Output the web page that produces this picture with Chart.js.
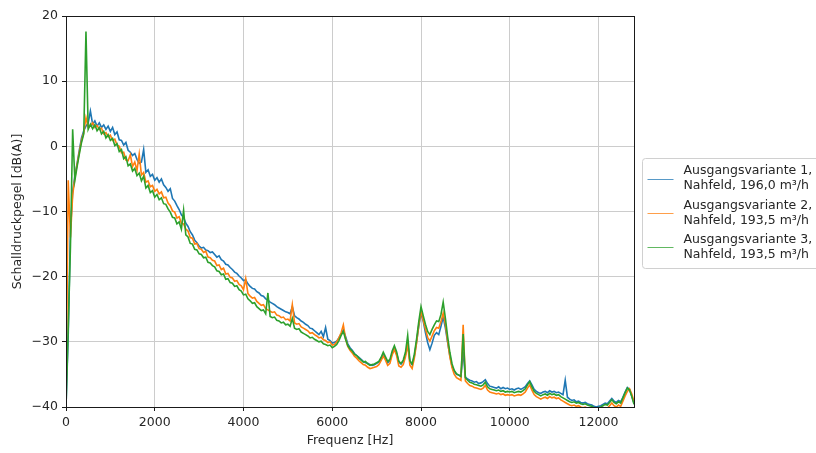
<!DOCTYPE html>
<html>
<head>
<meta charset="utf-8">
<script src="https://cdn.jsdelivr.net/npm/chart.js@4.4.1/dist/chart.umd.min.js"></script>
<style>
  html, body { margin: 0; padding: 0; background: #ffffff; }
  canvas { display: block; }
</style>
</head>
<body>
<canvas id="spectrum" width="816" height="453"></canvas>
<script>
// Sound pressure spectra, A-weighted, one value per 50 Hz bin from 0 to 12800 Hz
const FREQ_STEP_HZ = 50;

const xTickValues = [0, 2000, 4000, 6000, 8000, 10000, 12000];
const yTickValues = [-40, -30, -20, -10, 0, 10, 20];

const seriesLabels = [
  ["Ausgangsvariante 1,", "Nahfeld, 196,0 m³/h"],
  ["Ausgangsvariante 2,", "Nahfeld, 193,5 m³/h"],
  ["Ausgangsvariante 3,", "Nahfeld, 193,5 m³/h"]
];

// Ausgangsvariante 1 [dB(A)]
const variante1 = [
  -40, -29, -13, -7, -4.5, -2.6, -0.6, 1.3, 2.4, 3.1,                       // 0 Hz
  3.6, 5.4, 3.4, 3.9, 3.1, 3.6, 2.9, 3.3, 2.6, 3.1,                         // 500 Hz
  2.3, 2.9, 1.8, 2.2, 1.0, 0.9, 0.2, 0.6, -0.6, -0.9,                       // 1000 Hz
  -1.4, -1.1, -2.0, -2.6, -2.4, -0.5, -4.0, -3.6, -4.6, -4.3,               // 1500 Hz
  -5.2, -4.8, -5.5, -5.0, -5.9, -6.3, -6.9, -6.5, -8.0, -8.4,               // 2000 Hz
  -9.1, -9.7, -10.5, -10.9, -11.8, -12.3, -13.1, -13.6, -14.4, -14.8,       // 2500 Hz
  -15.3, -15.6, -15.5, -15.9, -16.0, -16.3, -16.2, -16.6, -17.0, -16.8,     // 3000 Hz
  -17.4, -17.6, -18.1, -18.2, -18.6, -18.9, -19.3, -19.5, -19.9, -20.2,     // 3500 Hz
  -20.6, -20.5, -21.1, -21.5, -21.8, -21.9, -22.3, -22.5, -22.9, -23.0,     // 4000 Hz
  -23.4, -23.6, -23.9, -24.1, -24.3, -24.6, -24.8, -25.0, -25.2, -25.4,     // 4500 Hz
  -25.5, -25.7, -24.6, -26.0, -26.3, -26.5, -26.8, -27.0, -27.3, -27.5,     // 5000 Hz
  -27.9, -28.0, -28.3, -28.6, -28.9, -28.4, -29.2, -27.8, -29.6, -29.8,     // 5500 Hz
  -30.2, -30.1, -29.9, -29.4, -28.8, -28.2, -29.2, -30.3, -30.9, -31.3,     // 6000 Hz
  -31.8, -32.1, -32.4, -32.7, -33.0, -33.2, -33.3, -33.5, -33.6, -33.5,     // 6500 Hz
  -33.3, -33.1, -32.7, -32.0, -32.5, -33.2, -32.9, -31.8, -31.0, -31.8,     // 7000 Hz
  -33.1, -33.4, -33.0, -32.0, -30.2, -33.0, -33.5, -32.2, -30.0, -27.6,     // 7500 Hz
  -25.6, -26.8, -28.6, -30.1, -31.2, -30.2, -29.0, -28.6, -28.9, -27.6,     // 8000 Hz
  -26.2, -27.9, -30.1, -32.1, -33.8, -34.5, -35.0, -35.1, -35.3, -31.5,     // 8500 Hz
  -35.4, -35.7, -35.9, -36.0, -36.2, -36.1, -36.4, -36.3, -36.1, -35.8,     // 9000 Hz
  -36.4, -36.8, -36.9, -37.0, -37.1, -36.9, -37.2, -37.0, -37.2, -37.1,     // 9500 Hz
  -37.3, -37.2, -37.4, -37.2, -37.1, -37.3, -37.1, -36.9, -36.4, -36.0,     // 10000 Hz
  -36.6, -37.3, -37.6, -37.8, -37.9, -37.7, -37.6, -37.8, -37.5, -37.7,     // 10500 Hz
  -37.6, -37.8, -37.7, -37.9, -38.1, -35.9, -38.5, -38.8, -39.0, -38.9,     // 11000 Hz
  -39.2, -39.1, -39.3, -39.4, -39.3, -39.5, -39.6, -39.7, -39.9, -40.0,     // 11500 Hz
  -39.9, -39.8, -39.6, -39.4, -39.5, -39.1, -38.7, -39.1, -39.3, -39.0,     // 12000 Hz
  -39.2, -38.5, -37.7, -37.0, -37.3, -38.3, -39.4                           // 12500 Hz
];

// Ausgangsvariante 2 [dB(A)]
const variante2 = [
  -40, -5.2, -14.0, -7.5, -4.8, -2.8, -0.9, 0.9, 2.1, 4.4,
  2.9, 3.1, 3.6, 2.9, 3.2, 2.6, 2.8, 1.9, 2.1, 1.5,
  1.7, 0.9, 1.1, 0.2, 0.0, -1.0, -0.9, -2.1, -2.2, -1.3,
  -3.1, -2.4, -3.7, -1.2, -4.4, -4.0, -5.5, -5.3, -6.2, -6.0,
  -6.9, -6.6, -7.3, -7.0, -7.9, -7.8, -8.7, -9.1, -9.9, -10.1,
  -11.0, -10.8, -11.8, -11.9, -12.7, -13.0, -14.0, -14.1, -15.0, -14.9,
  -15.7, -15.8, -16.3, -16.1, -17.0, -17.1, -17.5, -17.6, -18.3, -18.2,
  -18.9, -18.7, -19.6, -19.5, -20.1, -20.2, -20.7, -20.6, -21.2, -21.4,
  -22.0, -20.3, -22.6, -23.0, -23.3, -23.2, -23.8, -24.1, -24.4, -24.3,
  -24.9, -25.1, -25.3, -25.5, -25.4, -25.9, -26.0, -26.3, -26.2, -26.6,
  -26.5, -26.8, -24.3, -27.1, -27.3, -27.2, -27.7, -27.9, -28.1, -28.3,
  -28.7, -28.6, -28.9, -29.1, -29.4, -29.3, -29.7, -29.8, -30.1, -30.0,
  -30.5, -30.4, -30.0, -29.4, -28.6, -27.4, -29.5, -30.7, -31.3, -31.7,
  -32.2, -32.5, -32.9, -33.2, -33.5, -33.6, -33.9, -34.1, -34.0, -33.9,
  -33.8, -33.5, -32.9, -32.2, -32.8, -33.6, -33.3, -32.0, -31.2, -32.1,
  -33.7, -33.9, -33.5, -32.3, -30.4, -33.6, -34.1, -32.5, -30.2, -27.4,
  -25.3, -26.7, -28.0, -29.3, -29.9, -29.1, -28.3, -27.8, -27.9, -26.9,
  -25.6, -27.3, -29.9, -32.3, -34.0, -35.0, -35.5, -35.7, -35.9, -27.4,
  -36.0, -36.4, -36.7, -36.8, -37.0, -37.1, -37.2, -37.3, -37.1, -36.7,
  -37.4, -37.7, -37.8, -37.9, -38.0, -37.9, -38.1, -38.0, -38.2, -38.1,
  -38.2, -38.1, -38.3, -38.2, -38.1, -38.2, -38.0, -37.7, -37.1, -36.6,
  -37.4, -38.1, -38.4, -38.6, -38.8, -38.6, -38.5, -38.7, -38.4, -38.6,
  -38.5, -38.7, -38.6, -38.9, -39.1, -39.3, -39.5, -39.7, -39.8, -39.7,
  -39.9, -39.8, -40.0, -40.1, -40.0, -40.2, -40.3, -40.4, -40.6, -40.7,
  -40.6, -40.5, -40.3, -40.1, -40.2, -39.8, -39.4, -39.8, -40.0, -39.7,
  -39.9, -39.1, -38.3, -37.6, -37.2, -38.0, -39.2
];

// Ausgangsvariante 3 [dB(A)]
const variante3 = [
  -40, -28, -15.5, 2.6, -5.2, -3.1, -1.2, 0.6, 1.9, 17.6,
  2.6, 3.4, 2.7, 3.3, 2.4, 2.9, 1.9, 2.3, 1.3, 1.8,
  0.9, 1.2, 0.1, 0.4, -0.8, -0.5, -1.9, -1.6, -3.0, -2.7,
  -3.8, -3.4, -4.5, -4.1, -5.3, -4.6, -6.4, -6.0, -7.1, -6.8,
  -7.8, -7.4, -8.2, -7.9, -8.8, -8.9, -9.6, -10.1, -10.9, -11.0,
  -11.9, -11.6, -12.7, -9.8, -13.6, -13.9, -14.9, -15.0, -15.8, -15.9,
  -16.5, -16.6, -17.1, -17.0, -17.8, -17.9, -18.3, -18.5, -19.1, -19.2,
  -19.7, -19.6, -20.4, -20.3, -20.9, -21.0, -21.5, -21.4, -22.0, -22.2,
  -22.8, -22.7, -23.4, -23.7, -24.1, -24.0, -24.6, -24.9, -25.2, -25.1,
  -25.7, -22.5, -26.1, -26.3, -26.2, -26.7, -26.8, -27.1, -27.0, -27.4,
  -27.3, -27.6, -26.4, -27.9, -28.1, -28.0, -28.5, -28.7, -28.9, -29.1,
  -29.4, -29.3, -29.6, -29.8, -30.0, -29.9, -30.3, -30.4, -30.6, -30.5,
  -30.9, -30.7, -30.4, -29.8, -29.0, -28.4, -29.6, -30.6, -31.1, -31.4,
  -31.9, -32.1, -32.5, -32.8, -33.1, -33.0, -33.4, -33.6, -33.5, -33.4,
  -33.2, -33.0, -32.4, -31.6, -32.3, -33.0, -32.7, -31.4, -30.6, -31.5,
  -33.0, -33.3, -32.8, -31.6, -29.0, -32.9, -33.4, -31.9, -29.6, -26.9,
  -24.6, -26.0, -27.3, -28.4, -28.9, -28.1, -27.4, -26.8, -26.9, -25.8,
  -23.9, -26.4, -29.2, -31.6, -33.4, -34.4, -34.9, -35.1, -35.3, -28.8,
  -35.5, -35.9, -36.2, -36.3, -36.5, -36.6, -36.7, -36.8, -36.6, -36.2,
  -36.9, -37.2, -37.3, -37.4, -37.5, -37.4, -37.6, -37.5, -37.7, -37.6,
  -37.7, -37.6, -37.8, -37.7, -37.6, -37.7, -37.5, -37.2, -36.6, -36.1,
  -36.9, -37.6, -37.9, -38.1, -38.3, -38.1, -38.0, -38.2, -37.9, -38.1,
  -38.0, -38.2, -38.1, -38.4, -38.6, -38.8, -39.0, -39.2, -39.3, -39.2,
  -39.4, -39.3, -39.5, -39.6, -39.5, -39.7, -39.8, -39.9, -40.1, -40.2,
  -40.1, -40.0, -39.8, -39.6, -39.7, -39.3, -38.9, -39.3, -39.5, -39.2,
  -39.4, -38.6, -37.8, -37.1, -37.4, -38.4, -39.6
];

const seriesValues = [variante1, variante2, variante3];
const seriesColors = ['#1f77b4', '#ff7f0e', '#2ca02c'];

const FONT = '"DejaVu Sans", sans-serif';
const FONT_SIZE = 12.5;
const TEXT_COLOR = '#262626';

function toPoints(values) {
  return values.map((v, i) => ({ x: i * FREQ_STEP_HZ, y: v }));
}

function minusSign(v) {
  return String(v).replace('-', '\u2212');
}

// Dark frame around the plotting area, drawn above the curves
const frame = {
  id: 'frame',
  afterDatasetsDraw(chart) {
    const { ctx, chartArea: a } = chart;
    ctx.save();
    ctx.strokeStyle = '#1a1a1a';
    ctx.lineWidth = 1;
    ctx.strokeRect(Math.round(a.left) + 0.5, Math.round(a.top) + 0.5,
                   Math.round(a.right - a.left), Math.round(a.bottom - a.top));
    ctx.restore();
  }
};

// Legend to the right of the axes, two text lines per entry
const sideLegend = {
  id: 'sideLegend',
  afterDraw(chart) {
    const { ctx, chartArea: a } = chart;
    const left = a.right + 8.5;
    const top = 158.5;
    const width = 220;
    const height = 110;
    const r = 3;
    ctx.save();
    ctx.beginPath();
    ctx.moveTo(left + r, top);
    ctx.lineTo(left + width - r, top);
    ctx.arcTo(left + width, top, left + width, top + r, r);
    ctx.lineTo(left + width, top + height - r);
    ctx.arcTo(left + width, top + height, left + width - r, top + height, r);
    ctx.lineTo(left + r, top + height);
    ctx.arcTo(left, top + height, left, top + height - r, r);
    ctx.lineTo(left, top + r);
    ctx.arcTo(left, top, left + r, top, r);
    ctx.closePath();
    ctx.fillStyle = 'rgba(255,255,255,0.85)';
    ctx.fill();
    ctx.strokeStyle = '#d0d0d0';
    ctx.lineWidth = 1;
    ctx.stroke();

    ctx.font = FONT_SIZE + 'px ' + FONT;
    ctx.textBaseline = 'middle';
    ctx.textAlign = 'left';
    seriesLabels.forEach((lines, i) => {
      const cy = top + 20 + i * 34.4;
      ctx.globalAlpha = 0.75;
      ctx.strokeStyle = seriesColors[i];
      ctx.lineWidth = 1;
      ctx.beginPath();
      ctx.moveTo(left + 5, Math.round(cy) + 0.5);
      ctx.lineTo(left + 31, Math.round(cy) + 0.5);
      ctx.stroke();
      ctx.globalAlpha = 1;
      ctx.fillStyle = TEXT_COLOR;
      ctx.fillText(lines[0], left + 41, cy - 7.5);
      ctx.fillText(lines[1], left + 41, cy + 7.5);
    });
    ctx.restore();
  }
};

const whiteBackground = {
  id: 'whiteBackground',
  beforeDraw(chart) {
    const { ctx, width, height } = chart;
    ctx.save();
    ctx.fillStyle = '#ffffff';
    ctx.fillRect(0, 0, width, height);
    ctx.restore();
  }
};

new Chart(document.getElementById('spectrum'), {
  type: 'line',
  data: {
    datasets: seriesValues.map((values, i) => ({
      label: seriesLabels[i].join(' '),
      data: toPoints(values),
      borderColor: seriesColors[i],
      borderWidth: 1.6,
      pointRadius: 0,
      tension: 0,
      fill: false,
      order: 3 - i
    }))
  },
  options: {
    responsive: false,
    animation: false,
    devicePixelRatio: 1,
    layout: { padding: { left: 0, top: 16, right: 182, bottom: 0 } },
    plugins: {
      legend: { display: false },
      tooltip: { enabled: false }
    },
    scales: {
      x: {
        type: 'linear',
        min: 0,
        max: 12800,
        afterBuildTicks(scale) { scale.ticks = xTickValues.map(v => ({ value: v })); },
        afterFit(scale) { scale.height = 46; },
        ticks: {
          includeBounds: false,
          maxRotation: 0,
          padding: 4,
          color: TEXT_COLOR,
          font: { family: FONT, size: FONT_SIZE },
          callback: v => minusSign(v)
        },
        grid: { color: '#cccccc', lineWidth: 1, tickColor: '#1a1a1a', tickLength: 4 },
        border: { display: false },
        title: {
          display: true,
          text: 'Frequenz [Hz]',
          color: TEXT_COLOR,
          font: { family: FONT, size: FONT_SIZE },
          padding: { top: 0, bottom: 5 }
        }
      },
      y: {
        type: 'linear',
        min: -40,
        max: 20,
        afterBuildTicks(scale) { scale.ticks = yTickValues.map(v => ({ value: v })); },
        afterFit(scale) { scale.width = 66; },
        ticks: {
          includeBounds: false,
          padding: 4,
          color: TEXT_COLOR,
          font: { family: FONT, size: FONT_SIZE },
          callback: v => minusSign(v)
        },
        grid: { color: '#cccccc', lineWidth: 1, tickColor: '#1a1a1a', tickLength: 4 },
        border: { display: false },
        title: {
          display: true,
          text: 'Schalldruckpegel [dB(A)]',
          color: TEXT_COLOR,
          font: { family: FONT, size: FONT_SIZE },
          padding: { top: 10, bottom: 0 }
        }
      }
    }
  },
  plugins: [whiteBackground, frame, sideLegend]
});
</script>
</body>
</html>
